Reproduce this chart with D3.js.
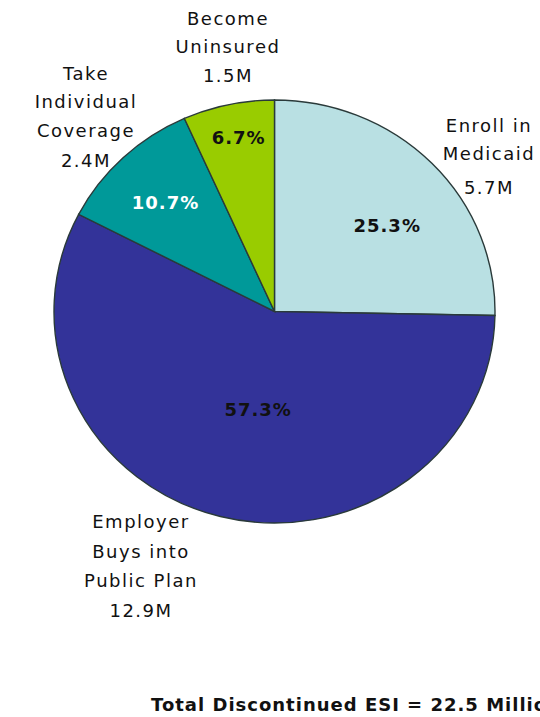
<!DOCTYPE html>
<html>
<head>
<meta charset="utf-8">
<script src="https://cdn.jsdelivr.net/npm/d3@7"></script>
<style>
  html, body { margin: 0; padding: 0; background: #fff; overflow: hidden; }
  svg { display: block; }
  text { font-family: "DejaVu Sans", Verdana, sans-serif; fill: #111; }
</style>
</head>
<body>
<svg id="chart" width="540" height="717"></svg>
<script>
// Outcomes for people losing employer-sponsored insurance (ESI)
const categories = ["Enroll in Medicaid", "Employer Buys into Public Plan", "Take Individual Coverage", "Become Uninsured"];
const labelLines = [["Enroll in", "Medicaid"], ["Employer", "Buys into", "Public Plan"], ["Take", "Individual", "Coverage"], ["Become", "Uninsured"]];
const shares = [25.3, 57.3, 10.7, 6.7];          // percent of total
const millions = [5.7, 12.9, 2.4, 1.5];          // people, millions
const totalLabel = "Total Discontinued ESI = 22.5 Million";

const colors = ["#b9e0e3", "#333399", "#009999", "#99cc00"];
const pctColors = ["#111", "#111", "#ffffff", "#111"];

// pie geometry (slightly squashed vertically)
const cx = 274.5, cy = 311.5, R = 220.5, sy = 211.5 / 220.5;

// label placement: percent labels sit at a fraction of the radius along the slice middle,
// category labels are anchored by the first baseline of the text block
const pctLayout = [
  { r: 0.64, dx: 12, dy: 9 },
  { r: 0.45, dx: 8, dy: 6 },
  { r: 0.70, dx: -3, dy: -1 },
  { r: 0.80, dx: 1, dy: -9 }
];
const catLayout = [
  { x: 489, y: 132, gaps: [28, 34] },
  { x: 141, y: 528, gaps: [30, 29, 30] },
  { x: 86, y: 80, gaps: [28, 29, 30] },
  { x: 228, y: 25, gaps: [28, 29] }
];

const svg = d3.select("#chart");
const data = categories.map((c, i) => ({ cat: c, share: shares[i], m: millions[i], i }));

const pie = d3.pie().sort(null).value(d => d.share);
const arcs = pie(data);
const arc = d3.arc().innerRadius(0).outerRadius(R);

const g = svg.append("g").attr("transform", `translate(${cx},${cy}) scale(1,${sy})`);
g.selectAll("path")
  .data(arcs)
  .join("path")
  .attr("d", arc)
  .attr("fill", d => colors[d.data.i])
  .attr("stroke", "#2a3a3a")
  .attr("stroke-width", 1.4)
  .attr("vector-effect", "non-scaling-stroke");

// percent labels
const fmt = d3.format(".1f");
svg.selectAll("text.pct")
  .data(arcs)
  .join("text")
  .attr("class", "pct")
  .attr("text-anchor", "middle")
  .attr("dominant-baseline", "central")
  .style("font-size", "18px")
  .style("font-weight", "bold")
  .style("letter-spacing", "1px")
  .style("fill", d => pctColors[d.data.i])
  .attr("x", d => {
    const L = pctLayout[d.data.i];
    const c = d3.arc().innerRadius(0).outerRadius(2 * L.r * R).centroid(d);
    return cx + c[0] + L.dx;
  })
  .attr("y", d => {
    const L = pctLayout[d.data.i];
    const c = d3.arc().innerRadius(0).outerRadius(2 * L.r * R).centroid(d);
    return cy + c[1] * sy + L.dy;
  })
  .text(d => fmt(d.data.share) + "%");

// category labels with value line
data.forEach(d => {
  const L = catLayout[d.i];
  const lines = labelLines[d.i].concat([fmt(d.m) + "M"]);
  const t = svg.append("text")
    .attr("text-anchor", "middle")
    .style("font-size", "18px")
    .style("letter-spacing", "1.5px");
  let y = L.y;
  lines.forEach((s, k) => {
    if (k > 0) y += L.gaps[k - 1];
    t.append("tspan").attr("x", L.x).attr("y", y).text(s);
  });
});

// footer total (runs past the right edge of the page)
svg.append("text")
  .attr("x", 151)
  .attr("y", 711)
  .style("font-size", "18px")
  .style("font-weight", "bold")
  .style("letter-spacing", "1px")
  .text(totalLabel);
</script>
</body>
</html>
